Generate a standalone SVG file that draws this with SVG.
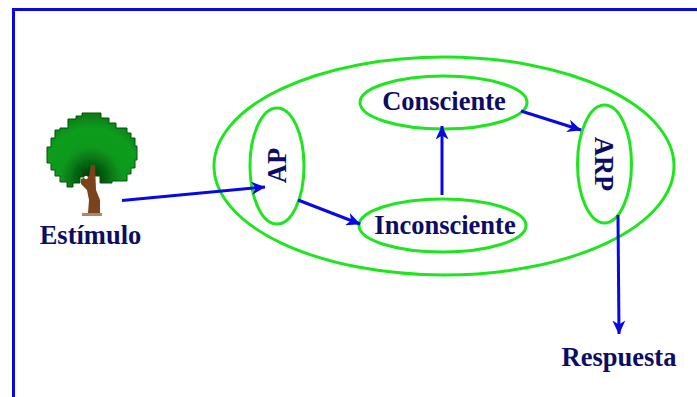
<svg xmlns="http://www.w3.org/2000/svg" width="697" height="397" viewBox="0 0 697 397">
<style>
.o{fill:none;stroke:#1ee61e;stroke-width:3}
.c{fill:none;stroke:#0808e4;stroke-width:3}
.h{fill:#0808e4}
.t{font-family:"Liberation Serif","Times New Roman",serif;font-weight:bold;font-size:26.500px;fill:#0c0c66;text-anchor:middle}
</style>
<defs>
<radialGradient id="leaf" gradientUnits="userSpaceOnUse" cx="91" cy="178" r="62">
<stop offset="0" stop-color="#022e08"/>
<stop offset=".22" stop-color="#05600f"/>
<stop offset=".5" stop-color="#0a9a1e"/>
<stop offset=".8" stop-color="#0a9c1e"/>
<stop offset="1" stop-color="#087f16"/>
</radialGradient>
<filter id="soft" x="-5%" y="-5%" width="110%" height="110%"><feGaussianBlur stdDeviation="0.7"/></filter>
<marker id="arrow" viewBox="0 0 14 13" refX="13.500" refY="6.500" markerWidth="14" markerHeight="13" markerUnits="userSpaceOnUse" orient="auto">
<path class="h" d="M0 0L14 6.500L0 13L4 6.500Z"/>
</marker>
</defs>
<rect width="697" height="397" fill="#fff"/>
<path d="M13.500 397V9.500H697" fill="none" stroke="#0808e4" stroke-width="3"/>
<g id="tree" filter="url(#soft)">
<path fill="url(#leaf)" stroke="#05550d" stroke-width="1" d="M82 113H101V118H109V123H116V128H127V133H131V138H135V146H137V160H135V168H131V174H127V181H112V183H100V176H90V177H80V183H73V187H67V182H60V176H55V170H51V163H47V147H51V138H55V130H60V128H68V119H76V116H82Z"/>
<path fill="#7c421c" d="M91 165L95 165L96 190L100 200L100 213L102 215H82L83 213L88 213L89 200L87 190L81 184L81 179L86 177L89 176Z"/>
<path fill="#b08860" d="M82 213H102V216H82Z"/>
<circle cx="86" cy="177.500" r="1.800" fill="#fff"/>
</g>
<g id="outer"><ellipse class="o" cx="444" cy="166" rx="230" ry="109"/></g>
<g id="ap"><ellipse class="o" cx="277" cy="166" rx="27" ry="58"/>
<text class="t" transform="translate(286 165.500) rotate(-90)">AP</text></g>
<g id="consciente"><ellipse class="o" cx="443.500" cy="102.500" rx="83.500" ry="26.500"/>
<text class="t" x="444" y="110">Consciente</text></g>
<g id="inconsciente"><ellipse class="o" cx="442.500" cy="225.500" rx="83.500" ry="26.500"/>
<text class="t" x="445" y="234">Inconsciente</text></g>
<g id="arp"><ellipse class="o" cx="604.500" cy="164" rx="27" ry="59"/>
<text class="t" transform="translate(595 164) rotate(90)">ARP</text></g>
<g id="estimulo"><text class="t" x="90.500" y="244">Estímulo</text></g>
<g id="respuesta"><text class="t" x="619" y="366">Respuesta</text></g>
<g id="connectors">
<path class="c" marker-end="url(#arrow)" d="M122 200.500L265 187"/>
<path class="c" marker-end="url(#arrow)" d="M298 200L360 224"/>
<path class="c" marker-end="url(#arrow)" d="M442 195V126"/>
<path class="c" marker-end="url(#arrow)" d="M521 111L581 130"/>
<path class="c" marker-end="url(#arrow)" d="M618 215L619 334"/>
</g>
</svg>
